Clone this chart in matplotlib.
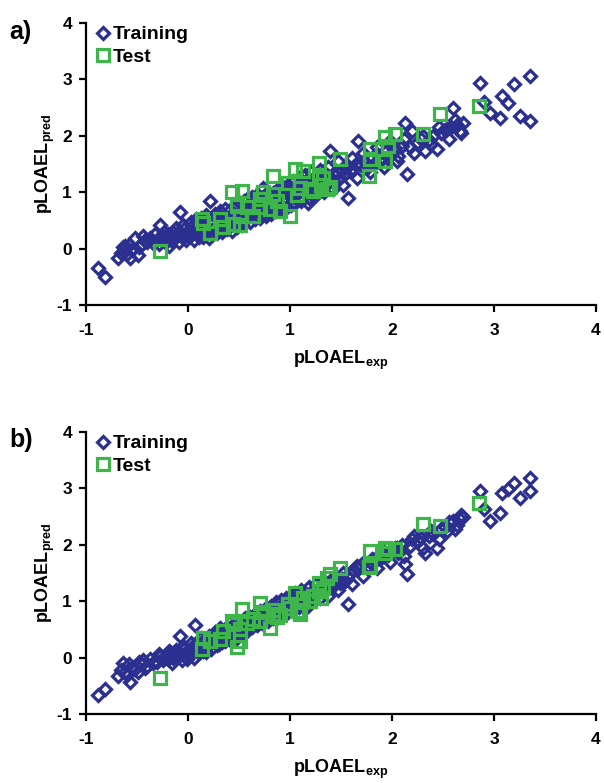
import matplotlib
matplotlib.use('Agg')
import matplotlib.pyplot as plt

plt.rcParams['font.family'] = ['Liberation Sans', 'DejaVu Sans']
plt.rcParams['font.weight'] = 'bold'
plt.rcParams['axes.unicode_minus'] = False
plt.rcParams['mathtext.fontset'] = 'custom'
plt.rcParams['mathtext.rm'] = 'Liberation Sans:bold'
plt.rcParams['mathtext.bf'] = 'Liberation Sans:bold'

# training set: experimental pLOAEL and predictions for model a) and b)
trainX = [-0.88, -0.81, -0.69, -0.64, -0.62, -0.57, -0.55, -0.52, -0.49, -0.45, -0.44, -0.40, -0.37,
          -0.34, -0.30, -0.27, -0.25, -0.22, -0.20, -0.18, -0.15, -0.13, -0.10, -0.08, -0.06, -0.04, -0.02,
          0.00, 0.02, 0.04, 0.05, 0.07, 0.09, 0.10, 0.12, 0.14, 0.15, 0.17, 0.19, 0.20, 0.22, 0.24,
          0.25, 0.27, 0.29, 0.30, 0.32, 0.34, 0.35, 0.37, 0.39, 0.40, 0.42, 0.44, 0.45, 0.47, 0.49,
          0.50, 0.52, 0.54, 0.55, 0.57, 0.59, 0.60, 0.62, 0.64, 0.65, 0.67, 0.69, 0.70, 0.72, 0.74,
          0.75, 0.77, 0.79, 0.80, 0.82, 0.84, 0.85, 0.87, 0.89, 0.90, 0.92, 0.94, 0.95, 0.97, 0.99,
          1.00, 1.02, 1.04, 1.06, 1.08, 1.10, 1.12, 1.14, 1.16, 1.18, 1.20, 1.22, 1.24, 1.26, 1.28,
          1.30, 1.32, 1.34, 1.36, 1.39, 1.41, 1.44, 1.46, 1.49, 1.51, 1.54, 1.56, 1.57, 1.59,
          1.62, 1.65, 1.67, 1.70, 1.73, 1.76, 1.80, 1.83, 1.86, 1.90, 1.93, 1.96, 2.00, 2.03, 2.06,
          2.10, 2.13, 2.15, 2.18, 2.20, 2.24, 2.28, 2.32, 2.36, 2.40, 2.44, 2.48, 2.52, 2.54, 2.58,
          2.60, 2.64, 2.67, 2.70,
          2.86, 2.90, 2.96, 3.06, 3.08, 3.14, 3.20, 3.25, 3.35, 3.35,
          -0.66, -0.60, -0.58, -0.48, -0.42, -0.32, -0.28, -0.24, -0.19, -0.16, -0.12, -0.09, -0.05,
          -0.01, 0.03, 0.06, 0.08, 0.11, 0.13, 0.16, 0.18, 0.21, 0.23, 0.26, 0.28, 0.31, 0.33, 0.36,
          0.38, 0.41, 0.43, 0.46, 0.48, 0.51, 0.53, 0.56, 0.58, 0.61, 0.63, 0.66, 0.68, 0.71, 0.73,
          0.76, 0.78, 0.81, 0.83, 0.86, 0.88, 0.91, 0.93, 0.96, 0.98, 1.01, 1.03, 1.05, 1.09, 1.11,
          1.15, 1.19, 1.21, 1.25, 1.29, 1.33, 1.37, 1.42, 1.47, 1.52, 1.61, 1.66, 1.72, 1.78, 1.85,
          1.92, 1.98, 2.05, 2.12, 2.22, 2.30, 2.38, 2.46, 2.56, 2.62, 2.68]
trainA = [-0.35, -0.51, -0.16, 0.02, 0.05, -0.16, -0.02, 0.18, -0.12, 0.08, 0.23, 0.12, 0.18,
          0.10, 0.15, 0.41, 0.20, 0.12, 0.25, 0.18, 0.30, 0.22, 0.28, 0.64, 0.20, 0.35, 0.15,
          0.32, 0.22, 0.40, 0.28, 0.36, 0.25, 0.45, 0.33, 0.38, 0.20, 0.42, 0.36, 0.30, 0.85, 0.44,
          0.35, 0.40, 0.52, 0.38, 0.48, 0.42, 0.55, 0.45, 0.50, 0.40, 0.58, 0.47, 0.52, 0.60, 0.48,
          0.62, 0.55, 0.70, 0.85, 0.60, 0.66, 0.75, 0.62, 0.70, 0.78, 0.66, 0.74, 0.82, 0.68, 1.08,
          0.76, 0.84, 0.72, 0.88, 0.80, 0.75, 0.92, 0.84, 0.78, 0.96, 0.86, 0.90, 1.02, 0.88, 0.95,
          0.98, 1.05, 0.92, 1.10, 1.00, 1.15, 1.02, 1.08, 1.20, 0.81, 1.12, 1.05, 1.18, 1.10, 1.25,
          1.15, 1.08, 1.22, 1.30, 1.73, 1.20, 1.28, 1.35, 1.25, 1.40, 1.32, 1.45, 0.90, 1.38,
          1.42, 1.50, 1.91, 1.48, 1.55, 1.45, 1.60, 1.52, 1.66, 1.58, 1.72, 1.62, 1.70, 1.78, 1.65,
          1.82, 2.23, 1.33, 1.80, 2.09, 1.88, 1.95, 1.73, 1.92, 2.00, 1.77, 2.05, 2.10, 2.12, 2.15,
          2.50, 2.20, 2.09, 2.23,
          2.94, 2.60, 2.41, 2.32, 2.71, 2.58, 2.92, 2.35, 3.06, 2.27,
          -0.08, -0.10, 0.06, 0.02, 0.16, 0.26, 0.08, 0.30, 0.05, 0.14, 0.36, 0.12, 0.42,
          0.24, 0.48, 0.15, 0.52, 0.20, 0.55, 0.30, 0.60, 0.18, 0.50, 0.62, 0.28, 0.66, 0.30, 0.70,
          0.35, 0.68, 0.32, 0.75, 0.38, 0.80, 0.42, 0.50, 0.88, 0.48, 0.92, 0.52, 0.95, 0.55, 0.90,
          0.58, 1.00, 0.62, 0.98, 0.66, 1.05, 0.70, 1.10, 0.72, 1.12, 0.78, 1.20, 0.80, 1.25, 0.85,
          1.30, 0.90, 1.35, 0.95, 1.40, 1.00, 1.45, 1.05, 1.55, 1.12, 1.60, 1.25, 1.70, 1.35, 1.80,
          1.45, 1.90, 1.55, 1.95, 1.70, 2.00, 1.85, 2.15, 1.95, 2.28, 2.05]
trainB = [-0.67, -0.55, -0.32, -0.10, -0.25, -0.44, -0.18, -0.20, -0.26, -0.12, -0.05, -0.15, -0.02,
          -0.10, -0.08, 0.02, -0.05, 0.05, -0.02, 0.10, 0.00, 0.08, 0.05, 0.39, -0.05, 0.15, 0.10,
          0.03, 0.12, 0.18, 0.10, 0.57, 0.15, 0.22, 0.18, 0.28, 0.12, 0.30, 0.25, 0.20, 0.35, 0.28,
          0.40, 0.30, 0.38, 0.25, 0.42, 0.35, 0.48, 0.38, 0.45, 0.33, 0.50, 0.42, 0.55, 0.46, 0.40,
          0.50, 0.45, 0.58, 0.52, 0.60, 0.55, 0.62, 0.66, 0.58, 0.70, 0.64, 0.60, 0.72, 0.68, 0.75,
          0.70, 0.78, 0.72, 0.80, 0.76, 0.82, 0.78, 0.86, 0.80, 0.90, 0.84, 0.88, 0.95, 0.86, 0.92,
          0.98, 1.02, 0.95, 1.05, 1.00, 1.10, 1.04, 1.08, 1.12, 0.92, 1.15, 1.10, 1.18, 1.14, 1.20,
          1.22, 1.16, 1.25, 1.28, 1.35, 1.26, 1.30, 1.38, 1.32, 1.40, 1.36, 1.45, 0.95, 1.48,
          1.55, 1.60, 1.58, 1.65, 1.70, 1.62, 1.75, 1.72, 1.80, 1.78, 1.85, 1.82, 1.90, 1.95, 1.85,
          2.00, 1.66, 1.49, 1.98, 2.10, 2.08, 2.12, 1.86, 2.15, 2.20, 1.95, 2.28, 2.32, 2.25, 2.38,
          2.42, 2.35, 2.45, 2.50,
          2.96, 2.64, 2.42, 2.57, 2.92, 2.99, 3.10, 2.83, 3.19, 2.96,
          -0.22, -0.30, -0.12, -0.08, -0.18, -0.06, 0.06, 0.00, 0.12, -0.10, 0.14, 0.02, 0.20,
          -0.02, 0.26, 0.00, 0.22, 0.08, 0.35, 0.18, 0.10, 0.38, 0.15, 0.45, 0.22, 0.52, 0.28, 0.30,
          0.55, 0.48, 0.30, 0.62, 0.35, 0.60, 0.42, 0.70, 0.48, 0.72, 0.55, 0.78, 0.58, 0.82, 0.62,
          0.88, 0.65, 0.92, 0.70, 0.98, 0.72, 1.02, 0.78, 1.05, 0.80, 1.10, 0.85, 1.15, 0.90, 1.20,
          0.95, 1.25, 1.00, 1.30, 1.05, 1.35, 1.10, 1.40, 1.20, 1.50, 1.30, 1.62, 1.45, 1.70, 1.58,
          1.88, 1.70, 1.95, 1.80, 2.15, 1.95, 2.25, 2.10, 2.40, 2.28, 2.52]

# test set
testX = [-0.27, 0.14, 0.15, 0.22, 0.31, 0.34, 0.44, 0.43, 0.53, 0.48, 0.51, 0.51, 0.58, 0.64,
         0.71, 0.71, 0.74, 0.80, 0.83, 0.83, 0.87, 0.90, 0.98, 1.00, 1.05, 1.07, 1.10, 1.13, 1.20,
         1.23, 1.28, 1.28, 1.30, 1.32, 1.36, 1.39, 1.49, 1.77, 1.78, 1.78, 1.93, 1.93, 1.96, 2.03,
         2.30, 2.47, 2.85]
testA = [-0.04, 0.53, 0.45, 0.28, 0.53, 0.38, 0.44, 1.00, 1.03, 0.76, 0.58, 0.41, 0.73, 0.58,
         0.88, 0.73, 1.00, 0.70, 1.29, 0.97, 0.85, 0.67, 1.17, 0.58, 1.41, 0.95, 1.08, 1.38, 1.06,
         1.03, 1.52, 1.26, 1.12, 1.26, 1.06, 1.10, 1.59, 1.29, 1.77, 1.59, 1.98, 1.56, 1.82, 2.03,
         2.04, 2.38, 2.53]
testB = [-0.37, 0.16, 0.35, 0.30, 0.33, 0.48, 0.60, 0.65, 0.87, 0.18, 0.30, 0.50, 0.62, 0.68,
         0.97, 0.65, 0.80, 0.53, 0.78, 0.85, 0.72, 0.75, 0.95, 0.88, 1.15, 0.83, 0.78, 1.05, 1.00,
         1.10, 1.33, 1.18, 1.06, 1.24, 1.42, 1.48, 1.58, 1.60, 1.89, 1.62, 1.95, 1.85, 1.93, 1.93,
         2.37, 2.34, 2.74]

navy = '#2B3090'
green = '#3DB54A'

fig = plt.figure(figsize=(6.04, 7.83), dpi=100)


def drawPanel(rect, predTrain, predTest, tag, tagY):
    ax = fig.add_axes(rect)
    ax.plot(trainX, predTrain, linestyle='none', marker='D', markersize=6.4,
            markerfacecolor='none', markeredgecolor=navy, markeredgewidth=2.3,
            label='Training', clip_on=False)
    ax.plot(testX, predTest, linestyle='none', marker='s', markersize=8.6,
            markerfacecolor='none', markeredgecolor=green, markeredgewidth=2.3,
            label='Test', clip_on=False)
    ax.set_xlim(-1, 4)
    ax.set_ylim(-1, 4)
    ax.set_xticks(range(-1, 5))
    ax.set_yticks(range(-1, 5))
    for side in ['top', 'right']:
        ax.spines[side].set_visible(False)
    for side in ['left', 'bottom']:
        ax.spines[side].set_linewidth(1.6)
    ax.tick_params(direction='out', length=5, width=1.6, labelsize=12.5)
    ax.tick_params(axis='x', pad=8)
    ax.tick_params(axis='y', pad=5)
    for lbl in ax.get_xticklabels() + ax.get_yticklabels():
        lbl.set_fontweight('bold')
    ax.set_xlabel(r'$\mathbf{pLOAEL_{exp}}$', fontsize=13, labelpad=8)
    ax.set_ylabel(r'$\mathbf{pLOAEL_{pred}}$', fontsize=13, labelpad=0)
    ax.legend(loc='upper left', bbox_to_anchor=(0.02, 0.99), frameon=False,
              prop={'size': 14, 'weight': 'bold'}, handlelength=0.7, handletextpad=0.15,
              labelspacing=0.25, borderaxespad=0, borderpad=0)
    fig.text(0.015, tagY, tag, fontsize=18, fontweight='bold', va='center')
    return ax


drawPanel([0.1424, 0.6105, 0.8444, 0.3601], trainA, testA, 'a)', 1 - 32 / 783)
drawPanel([0.1424, 0.0881, 0.8444, 0.3602], trainB, testB, 'b)', 1 - 440 / 783)

fig.savefig('out.png', dpi=100)
